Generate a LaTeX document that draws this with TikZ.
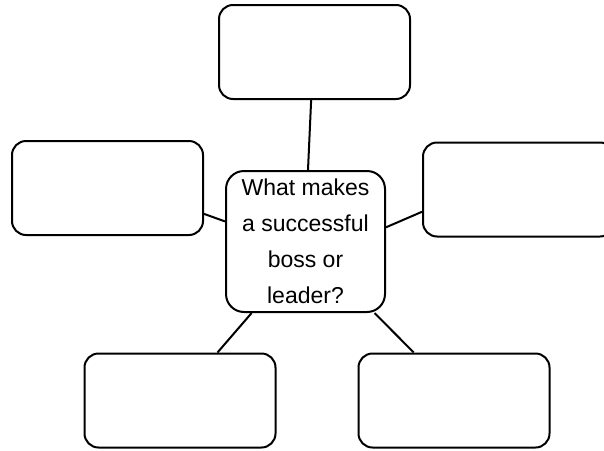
\documentclass[tikz,border=0pt]{standalone}
\usepackage{fontspec}
\setmainfont{Liberation Sans}
\usepackage{tikz}
\usetikzlibrary{shapes}

\begin{document}
\begin{tikzpicture}[x=1pt, y=-1pt, line width=2pt,
        idea/.style={draw, rounded corners=14pt, minimum width=191pt, minimum height=94pt},
        topic/.style={draw, rounded corners=18pt, minimum width=159pt, minimum height=141pt,
            align=center, font=\fontsize{23}{36}\selectfont}]
            \useasboundingbox (0,0) rectangle (604,450);
            \clip (0,0) rectangle (604,450);
            \node[topic] (C) at (305.5,241.5) {What makes\\a successful\\boss or\\leader?};
            \node[idea] (T) at (314.5,52) {};
            \node[idea] (L) at (107.5,188) {};
            \node[idea] (R) at (518.5,189.5) {};
            \node[idea] (BL) at (180,400.5) {};
            \node[idea] (BR) at (454,400.5) {};

            \path[draw]
                (C.88) edge (T.266)
                (C.166) edge (L.-15.6)
                (C.10.2) edge (R.-167.4)
                (C.233.7) edge (BL.52)
                (C.314) edge (BR.130.8);
        \end{tikzpicture}
\end{document}
